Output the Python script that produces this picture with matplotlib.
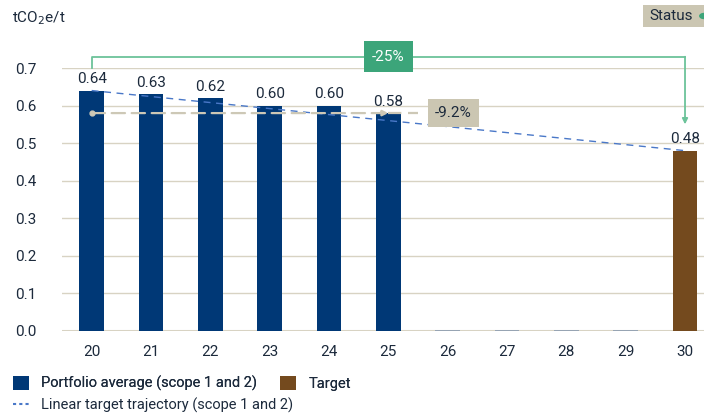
import matplotlib
matplotlib.use("Agg")
import matplotlib.pyplot as plt
from matplotlib.patches import Patch, Rectangle
from matplotlib.lines import Line2D

years = [20, 21, 22, 23, 24, 25, 26, 27, 28, 29, 30]
portfolio = [0.64, 0.63, 0.62, 0.60, 0.60, 0.58, 0, 0, 0, 0]
target_year = 30
target = 0.48
labels_portfolio = ["0.64", "0.63", "0.62", "0.60", "0.60", "0.58"]
trajectory_start = 0.64
change_now = "-9.2%"
change_target = "-25%"

NAVY = "#003876"
BROWN = "#744a1e"
TAN = "#cbc6b2"
GRID = "#d8d3c3"
GREEN_BOX = "#3ca57a"
GREEN_LINE = "#6cc39a"
TRAJ = "#4a78c8"
TEXT = "#1c2a3c"
FS = 11

plt.rcParams["font.family"] = ["Roboto", "DejaVu Sans"]

fig = plt.figure(figsize=(7.04, 4.18), dpi=100)
ax = fig.add_axes([62 / 704, 1 - 331 / 418, 1 - 62 / 704, (331 - 68) / 418])

ax.set_xlim(19.5, 30.32)
ax.set_ylim(0, 0.7)
ax.set_yticks([0.0, 0.1, 0.2, 0.3, 0.4, 0.5, 0.6, 0.7])
ax.set_yticklabels([f"{v:.1f}" for v in ax.get_yticks()])
ax.set_xticks(years)
ax.grid(axis="y", color=GRID, linewidth=1)
ax.set_axisbelow(True)
for s in ax.spines.values():
    s.set_visible(False)
ax.axhline(0, color=GRID, linewidth=2.2, zorder=1)
ax.tick_params(length=0, labelsize=FS, labelcolor=TEXT)
ax.tick_params(axis="y", pad=34)
ax.tick_params(axis="x", pad=10)
for lab in ax.get_yticklabels():
    lab.set_horizontalalignment("left")

bw = 0.42
bar_years = years[:len(portfolio)]
has_val = [v > 0 for v in portfolio]
ax.bar([x for x, h in zip(bar_years, has_val) if h],
       [v for v, h in zip(portfolio, has_val) if h], width=bw, color=NAVY, zorder=3)
ax.bar([x for x, h in zip(bar_years, has_val) if not h],
       [v for v, h in zip(portfolio, has_val) if not h], width=bw, color="#8a9bb0",
       edgecolor="#8a9bb0", linewidth=1.2, zorder=3)
ax.bar([target_year], [target], width=bw, color=BROWN, zorder=3)

for x, v, t in zip(bar_years, portfolio, labels_portfolio):
    ax.text(x, v + 0.012, t, ha="center", va="bottom", fontsize=FS, color=TEXT, zorder=5)
ax.text(target_year, target + 0.012, f"{target:.2f}", ha="center", va="bottom",
        fontsize=FS, color=TEXT, zorder=5)

# linear target trajectory
ax.plot([years[0], target_year], [trajectory_start, target], color=TRAJ,
        linestyle=(0, (5, 4)), linewidth=1, zorder=4)

# change so far
GRAY = "#cdc8b6"
ax.plot([years[0]], [portfolio[5]], marker="o", markersize=3.5, color=GRAY, zorder=4)
ax.annotate("", xy=(years[5], portfolio[5]), xytext=(years[0], portfolio[5]),
            arrowprops=dict(arrowstyle="-|>", color=GRAY, linestyle=(0, (6, 3)),
                            linewidth=1.6, mutation_scale=8, shrinkA=0, shrinkB=0),
            zorder=4)
ax.plot([years[5], 25.5], [portfolio[5], portfolio[5]], color=GRAY,
        linestyle=(0, (6, 3)), linewidth=1.6, zorder=4)
ax.text(26.1, portfolio[5], change_now, ha="center", va="center", fontsize=FS, color=TEXT,
        bbox=dict(boxstyle="square,pad=0.45", facecolor=TAN, edgecolor="none"), zorder=6)

# bracket to target
ytop = 0.73
ax.plot([years[0], years[0], target_year], [0.70, ytop, ytop], color=GREEN_LINE,
        linewidth=1.3, clip_on=False, zorder=4)
ax.annotate("", xy=(target_year, 0.55), xytext=(target_year, ytop),
            arrowprops=dict(arrowstyle="-|>", color=GREEN_LINE, linewidth=1.3,
                            mutation_scale=8, shrinkA=0, shrinkB=0),
            annotation_clip=False, zorder=4)
ax.text(25.0, ytop, change_target, ha="center", va="center", fontsize=FS, color="white",
        bbox=dict(boxstyle="square,pad=0.55", facecolor=GREEN_BOX, edgecolor="none"),
        zorder=6, clip_on=False)

# header
fig.text(12 / 704, 1 - 18 / 418, "tCO$_2$e/t", fontsize=FS, color=TEXT, va="center")
fig.patches.append(Rectangle((643 / 704, 1 - 27 / 418), 70 / 704, 22 / 418,
                             transform=fig.transFigure, facecolor=TAN, edgecolor="none"))
fig.text(649 / 704, 1 - 16 / 418, "Status", fontsize=FS, color=TEXT, va="center")
fig.patches.append(plt.Circle((704 / 704, 1 - 16 / 418), 0.006, transform=fig.transFigure,
                              color=GREEN_BOX, zorder=5))

# legend: two rows laid out separately
leg_kw = dict(loc="upper left", frameon=False, fontsize=10.5, labelcolor=TEXT,
              handlelength=1.1, handleheight=1.1, handletextpad=0.8,
              borderaxespad=0, borderpad=0)
row1 = [Patch(facecolor=NAVY, label="Portfolio average (scope 1 and 2)"),
        Patch(facecolor=BROWN, label="Target")]
row2 = [Line2D([], [], color=TRAJ, linestyle=(0, (1.5, 1.5)), linewidth=1.5,
               label="Linear target trajectory (scope 1 and 2)")]
leg1 = fig.legend(handles=row1, ncol=2, columnspacing=1.6,
                  bbox_to_anchor=(0.019, 1 - 376 / 418), **leg_kw)
fig.add_artist(leg1)
fig.legend(handles=row2, bbox_to_anchor=(0.019, 1 - 398 / 418), **leg_kw)

fig.savefig("out.png", dpi=100)
